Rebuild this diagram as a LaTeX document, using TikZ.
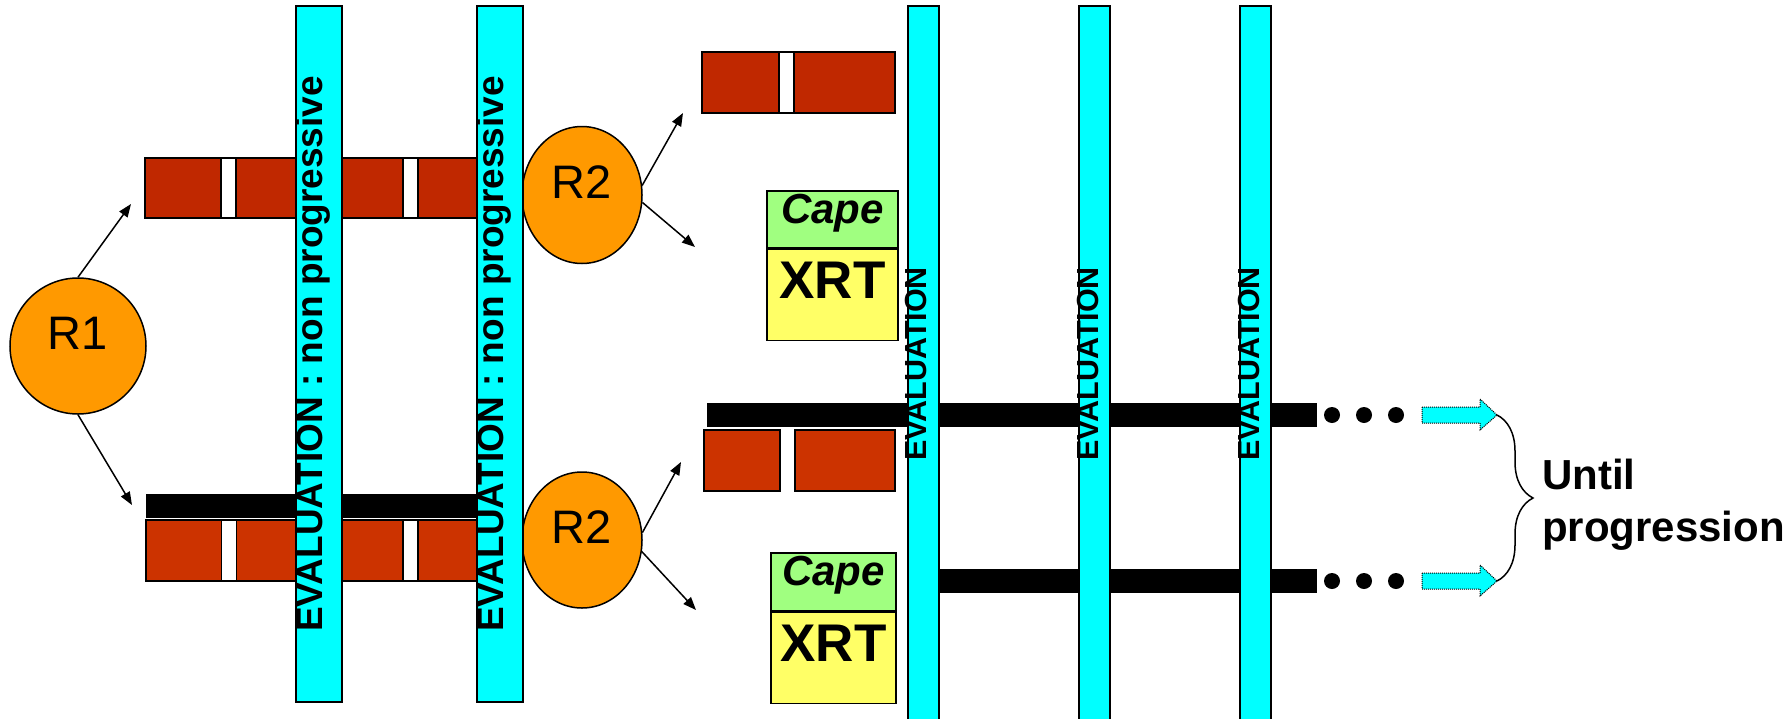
\documentclass[tikz,border=0pt]{standalone}
\usepackage{fontspec}
\setmainfont{Liberation Sans}
\usepackage{tikz}
\usetikzlibrary{arrows.meta, shapes.geometric, decorations.pathreplacing}
\definecolor{evalcyan}{RGB}{0,255,255}
\definecolor{rorange}{RGB}{255,153,0}
\definecolor{brickdark}{RGB}{192,40,0}
\definecolor{brick}{RGB}{204,51,0}
\definecolor{capegreen}{RGB}{160,255,128}
\definecolor{xrtyellow}{RGB}{255,255,102}

\begin{document}
\begin{tikzpicture}[x=1pt, y=-1pt,
  evalbar/.style={draw, fill=evalcyan, line width=2pt, rotate=90, inner sep=0pt,
    text height=0.72em, text depth=0pt, font=\bfseries\fontsize{#1}{#1}\selectfont},
  brickbox/.style={draw, line width=1.5pt, inner sep=0pt},
  gapbox/.style={draw, fill=white, line width=1.5pt, inner sep=0pt, minimum width=15},
  thickline/.style={fill=black, inner sep=0pt, minimum height=24},
  rnode/.style={ellipse, draw, fill=rorange, line width=1.5pt, inner sep=0pt,
    text height=0.72em, text depth=0pt, font=\fontsize{47}{56}\selectfont},
  labbox/.style={draw, line width=1.5pt, inner sep=0pt, text height=0.72em, text depth=0pt},
  flow/.style={line width=1.5pt, -{Triangle[length=13pt, width=10pt]}},
  more/.style={draw, fill=evalcyan, densely dotted, line width=1pt}]
  \useasboundingbox (0,0) rectangle (1791,718);

  \node[brickbox, fill=brickdark, minimum width=335, minimum height=60] (stripa) at (312.5,188) {};
  \foreach \gx [count=\i] in {228.5,410.5}
    \node[gapbox, minimum height=60] (gapa\i) at (\gx,188) {};

  \node[thickline, minimum width=334] (bara) at (313,506) {};
  \node[brickbox, fill=brick, minimum width=334, minimum height=61] (stripb) at (313,550.5) {};
  \foreach \gx [count=\i] in {229,410.5}
    \node[gapbox, minimum height=61] (gapb\i) at (\gx,550.5) {};

  \node[brickbox, fill=brickdark, minimum width=193, minimum height=61] (stripc) at (798.5,82.5) {};
  \node[gapbox, minimum height=61] (gapc) at (786.5,82.5) {};
  \node[brickbox, fill=brick, minimum width=76, minimum height=61] (blocka) at (742,460.5) {};
  \node[brickbox, fill=brick, minimum width=100, minimum height=61] (blockb) at (845,460.5) {};
  \node[thickline, minimum width=610] (barb) at (1012,415) {};
  \node[thickline, minimum width=392] (barc) at (1121,581) {};

  \node[rnode, minimum width=136, minimum height=136] (r1) at (78,346) {R1};
  \node[rnode, minimum width=120, minimum height=137] (r2a) at (582,195) {R2};
  \node[rnode, minimum width=120, minimum height=136] (r2b) at (582,540) {R2};

  \node[evalbar=37, minimum width=696, minimum height=46] (eva) at (319,354) {EVALUATION : non progressive};
  \node[evalbar=37, minimum width=696, minimum height=46] (evb) at (500,354) {EVALUATION : non progressive};
  \foreach \bx/\nm in {923/c, 1094.5/d, 1255.5/e}
    \node[evalbar=30.5, minimum width=716, minimum height=31] (ev\nm) at (\bx,364) {EVALUATION};

  \node[labbox, fill=capegreen, minimum width=131, minimum height=57,
    font=\bfseries\itshape\fontsize{42}{50}\selectfont] (capea) at (832.5,219.5) {Cape};
  \node[labbox, fill=xrtyellow, minimum width=131, minimum height=91, anchor=north,
    font=\bfseries\fontsize{53}{60}\selectfont] (xrta) at (capea.south) {XRT};
  \node[labbox, fill=capegreen, minimum width=125, minimum height=58,
    font=\bfseries\itshape\fontsize{42}{50}\selectfont] (capeb) at (833.5,582) {Cape};
  \node[labbox, fill=xrtyellow, minimum width=125, minimum height=91, anchor=north,
    font=\bfseries\fontsize{53}{60}\selectfont] (xrtb) at (capeb.south) {XRT};

  \coordinate (toa) at (131,204);
  \coordinate (tob) at (132,505);
  \coordinate (toc) at (683,113);
  \coordinate (tod) at (695,247);
  \coordinate (toe) at (681,462);
  \coordinate (tof) at (696,610);
  \draw[flow] (r1.north) -- (toa);
  \draw[flow] (r1.south) -- (tob);
  \draw[flow] (r2a.9) -- (toc);
  \draw[flow] (r2a.-7) -- (tod);
  \draw[flow] (r2b.7) -- (toe);
  \draw[flow] (r2b.-11) -- (tof);

  \foreach \yy/\nm in {415/up, 581/low} {
    \foreach \xx in {1332,1364,1396}
      \fill (\xx,\yy) circle[radius=8];
    \draw[more] (1422,\yy-8) -- (1480,\yy-8) -- (1480,\yy-16) -- (1497,\yy)
      -- (1480,\yy+15) -- (1480,\yy+8) -- (1422,\yy+8) -- cycle;
    \coordinate (tip\nm) at (1497,\yy);
  }
  \draw[line width=1.5pt, decorate, decoration={brace, amplitude=36pt}] (tipup) -- (tiplow);
  \node[anchor=north west, align=left, inner sep=0pt,
    font=\bfseries\fontsize{42}{52}\selectfont] (until) at (1542,459) {Until\\progression};
\end{tikzpicture}
\end{document}
